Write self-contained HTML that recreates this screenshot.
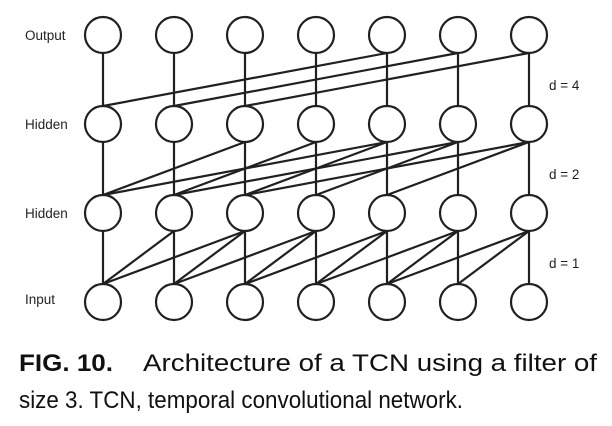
<!DOCTYPE html>
<html><head><style>
html,body{margin:0;padding:0;background:#fff;}
svg{display:block;}
</style></head><body>
<svg width="612" height="426" viewBox="0 0 612 426" xmlns="http://www.w3.org/2000/svg">
<g stroke="#231f20" stroke-width="2.2" fill="none" id="lines">
</g>
<g id="nodes" stroke="#231f20" stroke-width="2.2" fill="#fff"></g>
<g font-family="Liberation Sans, sans-serif" font-size="13.5" fill="#231f20">
<text x="25" y="40">Output</text>
<text x="25" y="129">Hidden</text>
<text x="25" y="218">Hidden</text>
<text x="25" y="304">Input</text>
<text x="549" y="90">d = 4</text>
<text x="549" y="179">d = 2</text>
<text x="549" y="268">d = 1</text>
</g>
<g font-family="Liberation Sans, sans-serif" font-size="24" fill="#111">
<text x="19" y="371" font-weight="bold" textLength="94" lengthAdjust="spacingAndGlyphs">FIG. 10.</text>
<text x="143" y="371" textLength="454" lengthAdjust="spacingAndGlyphs">Architecture of a TCN using a filter of</text>
<text x="19" y="408" textLength="444" lengthAdjust="spacingAndGlyphs">size 3. TCN, temporal convolutional network.</text>
</g>
<script>
var xs=[],ys=[35,124,213,302],r=18;
for(var i=0;i<7;i++)xs.push(103+71*i);
var L=document.getElementById('lines'),N=document.getElementById('nodes');
var ns='http://www.w3.org/2000/svg';
function ln(x1,y1,x2,y2){var e=document.createElementNS(ns,'line');e.setAttribute('x1',x1);e.setAttribute('y1',y1);e.setAttribute('x2',x2);e.setAttribute('y2',y2);L.appendChild(e);}
var d=[4,2,1];
for(var l=0;l<3;l++){for(var j=0;j<7;j++){for(var k=0;k<3;k++){var s=j-k*d[l];if(s<0)continue;ln(xs[j],ys[l]+r,xs[s],ys[l+1]-r);}}}
for(var l=0;l<4;l++)for(var j=0;j<7;j++){var c=document.createElementNS(ns,'circle');c.setAttribute('cx',xs[j]);c.setAttribute('cy',ys[l]);c.setAttribute('r',r);N.appendChild(c);}
</script>
</svg>
</body></html>
